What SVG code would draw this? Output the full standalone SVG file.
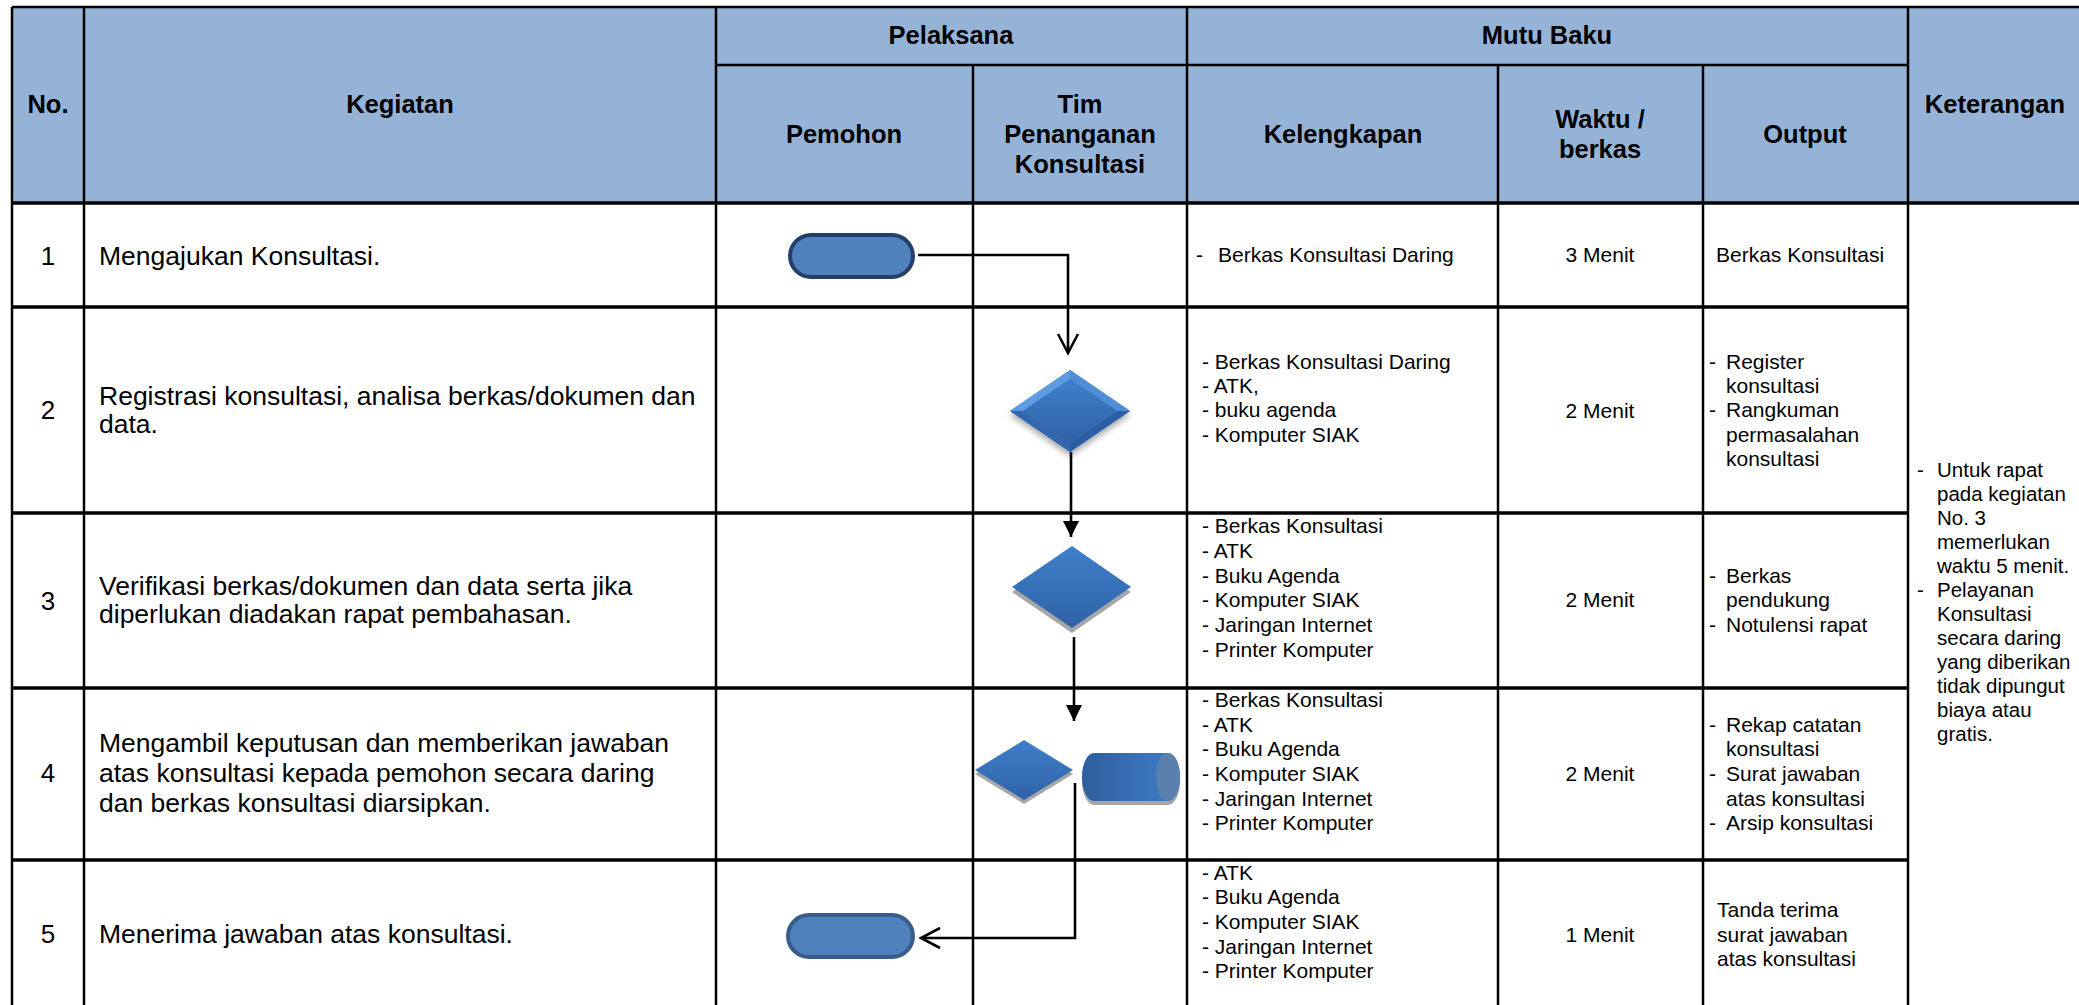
<svg xmlns="http://www.w3.org/2000/svg" width="2079" height="1005" viewBox="0 0 2079 1005">
<defs>
<style>
text{font-family:"Liberation Sans",Arial,sans-serif;fill:#000}
.h{font-weight:bold;font-size:25.5px;text-anchor:middle}
.b{font-size:26.5px}
.n{font-size:26px;text-anchor:middle}
.s{font-size:21px}
.k{font-size:20.5px}
.c{font-size:21px;text-anchor:middle}
.grid line{stroke:#000;stroke-width:2.5}
.grid .thick{stroke-width:3.5}
.con{fill:none;stroke:#000;stroke-width:2.6}
.term{fill:#4f81bd;stroke-width:4}
</style>
<marker id="open" markerUnits="userSpaceOnUse" markerWidth="24" markerHeight="24" viewBox="0 0 24 24" refX="21" refY="12" orient="auto">
<path d="M2,2 L21,12 L2,22" fill="none" stroke="#000" stroke-width="2.6"/>
</marker>
<marker id="solid" markerUnits="userSpaceOnUse" markerWidth="18" markerHeight="18" viewBox="0 0 18 18" refX="17" refY="9" orient="auto">
<path d="M1,1 L17,9 L1,17 z" fill="#000"/>
</marker>
<linearGradient id="dg" x1="0" y1="0" x2="0" y2="1">
<stop offset="0" stop-color="#3f7fcb"/>
<stop offset="1" stop-color="#2f62a5"/>
</linearGradient>
<linearGradient id="cg" x1="0" y1="0" x2="1" y2="0">
<stop offset="0" stop-color="#2e5e9d"/>
<stop offset="1" stop-color="#3f7dc8"/>
</linearGradient>
<filter id="sh" x="-20%" y="-20%" width="140%" height="150%">
<feDropShadow dx="0" dy="4" stdDeviation="3" flood-color="#000" flood-opacity="0.35"/>
</filter>
</defs>

<g id="table">
<rect x="12" y="7" width="2080" height="196" fill="#95b3d7"/>
<g class="grid">
<line x1="12" y1="7" x2="2079" y2="7"/>
<line x1="716" y1="65" x2="1908" y2="65"/>
<line class="thick" x1="12" y1="203" x2="2079" y2="203"/>
<line class="thick" x1="12" y1="307" x2="1908" y2="307"/>
<line class="thick" x1="12" y1="513" x2="1908" y2="513"/>
<line class="thick" x1="12" y1="688" x2="1908" y2="688"/>
<line class="thick" x1="12" y1="860" x2="1908" y2="860"/>
<line x1="12" y1="7" x2="12" y2="1005"/>
<line x1="84" y1="7" x2="84" y2="1005"/>
<line x1="716" y1="7" x2="716" y2="1005"/>
<line x1="973" y1="65" x2="973" y2="1005"/>
<line x1="1187" y1="7" x2="1187" y2="1005"/>
<line x1="1498" y1="65" x2="1498" y2="1005"/>
<line x1="1703" y1="65" x2="1703" y2="1005"/>
<line x1="1908" y1="7" x2="1908" y2="1005"/>
</g>
</g>

<g id="header">
<text class="h" x="48" y="113">No.</text>
<text class="h" x="400" y="113">Kegiatan</text>
<text class="h" x="951" y="44">Pelaksana</text>
<text class="h" x="1547" y="44">Mutu Baku</text>
<text class="h" x="844" y="143">Pemohon</text>
<text class="h" x="1080" y="113">Tim</text>
<text class="h" x="1080" y="143">Penanganan</text>
<text class="h" x="1080" y="173">Konsultasi</text>
<text class="h" x="1343" y="143">Kelengkapan</text>
<text class="h" x="1600" y="128">Waktu /</text>
<text class="h" x="1600" y="158">berkas</text>
<text class="h" x="1805" y="143">Output</text>
<text class="h" x="1995" y="113">Keterangan</text>
</g>

<g id="row1">
<text class="n" x="48" y="265">1</text>
<text class="b" x="99" y="265">Mengajukan Konsultasi.</text>
<text class="s" x="1196" y="262">-</text>
<text class="s" x="1218" y="262">Berkas Konsultasi Daring</text>
<text class="c" x="1600" y="262">3 Menit</text>
<text class="s" x="1716" y="262">Berkas Konsultasi</text>
</g>

<g id="row2">
<text class="n" x="48" y="419">2</text>
<text class="b" x="99" y="405">Registrasi konsultasi, analisa berkas/dokumen dan</text>
<text class="b" x="99" y="433">data.</text>
<text class="s" x="1202" y="369">- Berkas Konsultasi Daring</text>
<text class="s" x="1202" y="393">- ATK,</text>
<text class="s" x="1202" y="417">- buku agenda</text>
<text class="s" x="1202" y="442">- Komputer SIAK</text>
<text class="c" x="1600" y="418">2 Menit</text>
<text class="s" x="1709" y="369">-</text>
<text class="s" x="1726" y="369">Register</text>
<text class="s" x="1726" y="393">konsultasi</text>
<text class="s" x="1709" y="417">-</text>
<text class="s" x="1726" y="417">Rangkuman</text>
<text class="s" x="1726" y="442">permasalahan</text>
<text class="s" x="1726" y="466">konsultasi</text>
</g>

<g id="row3">
<text class="n" x="48" y="610">3</text>
<text class="b" x="99" y="595">Verifikasi berkas/dokumen dan data serta jika</text>
<text class="b" x="99" y="623">diperlukan diadakan rapat pembahasan.</text>
<text class="s" x="1202" y="533">- Berkas Konsultasi</text>
<text class="s" x="1202" y="558">- ATK</text>
<text class="s" x="1202" y="583">- Buku Agenda</text>
<text class="s" x="1202" y="607">- Komputer SIAK</text>
<text class="s" x="1202" y="632">- Jaringan Internet</text>
<text class="s" x="1202" y="657">- Printer Komputer</text>
<text class="c" x="1600" y="607">2 Menit</text>
<text class="s" x="1709" y="583">-</text>
<text class="s" x="1726" y="583">Berkas</text>
<text class="s" x="1726" y="607">pendukung</text>
<text class="s" x="1709" y="632">-</text>
<text class="s" x="1726" y="632">Notulensi rapat</text>
</g>

<g id="row4">
<text class="n" x="48" y="782">4</text>
<text class="b" x="99" y="752">Mengambil keputusan dan memberikan jawaban</text>
<text class="b" x="99" y="782">atas konsultasi kepada pemohon secara daring</text>
<text class="b" x="99" y="812">dan berkas konsultasi diarsipkan.</text>
<text class="s" x="1202" y="707">- Berkas Konsultasi</text>
<text class="s" x="1202" y="732">- ATK</text>
<text class="s" x="1202" y="756">- Buku Agenda</text>
<text class="s" x="1202" y="781">- Komputer SIAK</text>
<text class="s" x="1202" y="806">- Jaringan Internet</text>
<text class="s" x="1202" y="830">- Printer Komputer</text>
<text class="c" x="1600" y="781">2 Menit</text>
<text class="s" x="1709" y="732">-</text>
<text class="s" x="1726" y="732">Rekap catatan</text>
<text class="s" x="1726" y="756">konsultasi</text>
<text class="s" x="1709" y="781">-</text>
<text class="s" x="1726" y="781">Surat jawaban</text>
<text class="s" x="1726" y="806">atas konsultasi</text>
<text class="s" x="1709" y="830">-</text>
<text class="s" x="1726" y="830">Arsip konsultasi</text>
</g>

<g id="row5">
<text class="n" x="48" y="943">5</text>
<text class="b" x="99" y="943">Menerima jawaban atas konsultasi.</text>
<text class="s" x="1202" y="880">- ATK</text>
<text class="s" x="1202" y="904">- Buku Agenda</text>
<text class="s" x="1202" y="929">- Komputer SIAK</text>
<text class="s" x="1202" y="954">- Jaringan Internet</text>
<text class="s" x="1202" y="978">- Printer Komputer</text>
<text class="c" x="1600" y="942">1 Menit</text>
<text class="s" x="1717" y="917">Tanda terima</text>
<text class="s" x="1717" y="942">surat jawaban</text>
<text class="s" x="1717" y="966">atas konsultasi</text>
</g>

<g id="keterangan">
<text class="k" x="1917" y="477">-</text>
<text class="k" x="1937" y="477">Untuk rapat</text>
<text class="k" x="1937" y="501">pada kegiatan</text>
<text class="k" x="1937" y="525">No. 3</text>
<text class="k" x="1937" y="549">memerlukan</text>
<text class="k" x="1937" y="573">waktu 5 menit.</text>
<text class="k" x="1917" y="597">-</text>
<text class="k" x="1937" y="597">Pelayanan</text>
<text class="k" x="1937" y="621">Konsultasi</text>
<text class="k" x="1937" y="645">secara daring</text>
<text class="k" x="1937" y="669">yang diberikan</text>
<text class="k" x="1937" y="693">tidak dipungut</text>
<text class="k" x="1937" y="717">biaya atau</text>
<text class="k" x="1937" y="741">gratis.</text>
</g>

<g id="connectors">
<path class="con" d="M918,255 H1068 V353" marker-end="url(#open)"/>
<path class="con" d="M1071,452 V537" marker-end="url(#solid)"/>
<path class="con" d="M1074,637 V721" marker-end="url(#solid)"/>
<path class="con" d="M1075,783 V938 H921" marker-end="url(#open)"/>
</g>

<g id="n1">
<rect class="term" x="790" y="235" width="123" height="42" rx="21" stroke="#24406a"/>
</g>

<g id="n2">
<g filter="url(#sh)">
<polygon points="1070,370 1130,411 1070,452 1010,411" fill="#3d7cc6"/>
</g>
<polygon points="1070,370 1010,411 1023,411 1070,379" fill="#5e9be0"/>
<polygon points="1070,370 1130,411 1117,411 1070,379" fill="#4f8dd6"/>
<polygon points="1130,411 1070,452 1070,443 1117,411" fill="#2c5fa2"/>
<polygon points="1010,411 1070,452 1070,443 1023,411" fill="#3467ad"/>
<polygon points="1070,379 1117,411 1070,443 1023,411" fill="url(#dg)"/>
</g>

<g id="n3">
<polygon points="1072,551 1131,592 1072,633 1012,592" fill="#a6a6a6"/>
<polygon points="1072,546 1131,587 1072,628 1012,587" fill="url(#dg)"/>
</g>

<g id="n4">
<polygon points="1024,744 1073,774 1024,804 975,774" fill="#a6a6a6"/>
<polygon points="1024,740 1073,770 1024,800 975,770" fill="url(#dg)"/>
</g>

<g id="n4b">
<path d="M1094,757 H1168 A12,24 0 0 1 1168,805 H1094 A12,24 0 0 1 1094,757 Z" fill="#a6a6a6"/>
<path d="M1094,753 H1168 A12,24 0 0 1 1168,801 H1094 A12,24 0 0 1 1094,753 Z" fill="url(#cg)"/>
<ellipse cx="1168" cy="777" rx="12" ry="24" fill="#5a80ad"/>
</g>

<g id="n5">
<rect class="term" x="788" y="915" width="125" height="42" rx="21" stroke="#385d8a"/>
</g>
</svg>
